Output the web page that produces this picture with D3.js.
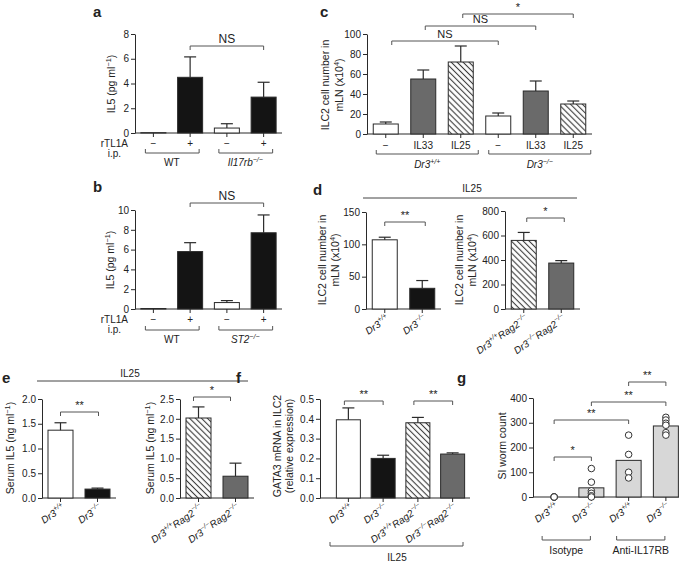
<!DOCTYPE html>
<html><head><meta charset="utf-8">
<script src="https://cdn.jsdelivr.net/npm/d3@7/dist/d3.min.js"></script>
<style>body{margin:0;background:#fff}svg{display:block}</style>
</head><body><svg id="fig" width="685" height="563"></svg>
<script>
// ---------------- DATA ----------------
const aCategories = ["−", "+", "−", "+"];
const aGroups = ["WT", "Il17rb^{−/−}"];
const aValues = [0.03, 4.5, 0.4, 2.9];
const aErrorTops = [0.03, 6.15, 0.75, 4.1];
const aYTicks = [0, 2, 4, 6, 8];
const aSig = [[1, 3, "NS"]];

const bCategories = ["−", "+", "−", "+"];
const bGroups = ["WT", "ST2^{−/−}"];
const bValues = [0.05, 5.8, 0.65, 7.7];
const bErrorTops = [0.05, 6.7, 0.85, 9.5];
const bYTicks = [0, 2, 4, 6, 8, 10];
const bSig = [[1, 3, "NS"]];

const cCategories = ["−", "IL33", "IL25", "−", "IL33", "IL25"];
const cGroups = ["Dr3^{+/+}", "Dr3^{−/−}"];
const cValues = [10, 55, 72, 18, 43, 30];
const cErrorTops = [12, 64, 88, 21, 53, 33];
const cYTicks = [0, 20, 40, 60, 80, 100];
const cSig = [[0, 3, "NS"], [1, 4, "NS"], [2, 5, "*"]];

const dHeader = "IL25";
const dLeftCategories = ["Dr3^{+/+}", "Dr3^{−/−}"];
const dLeftValues = [107, 32];
const dLeftErrorTops = [111, 44];
const dLeftYTicks = [0, 50, 100, 150];
const dLeftSig = [[0, 1, "**"]];
const dRightCategories = ["Dr3^{+/+}Rag2^{−/−}", "Dr3^{−/−}Rag2^{−/−}"];
const dRightValues = [560, 375];
const dRightErrorTops = [625, 395];
const dRightYTicks = [0, 200, 400, 600, 800];
const dRightSig = [[0, 1, "*"]];

const eHeader = "IL25";
const eLeftCategories = ["Dr3^{+/+}", "Dr3^{−/−}"];
const eLeftValues = [1.37, 0.18];
const eLeftErrorTops = [1.52, 0.2];
const eLeftYTicks = [0, 0.5, 1.0, 1.5, 2.0];
const eLeftSig = [[0, 1, "**"]];
const eRightCategories = ["Dr3^{+/+}Rag2^{−/−}", "Dr3^{−/−}Rag2^{−/−}"];
const eRightValues = [2.02, 0.55];
const eRightErrorTops = [2.3, 0.88];
const eRightYTicks = [0, 0.5, 1.0, 1.5, 2.0, 2.5];
const eRightSig = [[0, 1, "*"]];

const fCategories = ["Dr3^{+/+}", "Dr3^{−/−}", "Dr3^{+/+}Rag2^{−/−}", "Dr3^{−/−}Rag2^{−/−}"];
const fValues = [0.395, 0.2, 0.38, 0.222];
const fErrorTops = [0.455, 0.216, 0.407, 0.228];
const fYTicks = [0, 0.1, 0.2, 0.3, 0.4, 0.5];
const fSig = [[0, 1, "**"], [2, 3, "**"]];
const fFooter = "IL25";

const gCategories = ["Dr3^{+/+}", "Dr3^{−/−}", "Dr3^{+/+}", "Dr3^{−/−}"];
const gGroups = ["Isotype", "Anti-IL17RB"];
const gMeans = [0, 37, 148, 287];
const gPoints = [[0, 0, 0, 0], [115, 60, 25, 15, 5, 0], [250, 172, 100, 77], [322, 311, 298, 290, 260, 250]];
const gYTicks = [0, 100, 200, 300, 400];
const gSig = [[0, 1, "*"], [0, 2, "**"], [1, 3, "**"], [2, 3, "**"]];

// ---------------- STYLE ----------------
const FONT = "'Liberation Sans', Arial, Helvetica, sans-serif";
const INK = "#2a2a2a";
const TXT = "#222";
const BLACK = "#141414", DARK = "#6a6a6a", LIGHT = "#d7d7d7", WHITE = "#ffffff", HATCH = "url(#hatch)";

const svg = d3.select("#fig").attr("font-family", FONT);
const defs = svg.append("defs");
const pat = defs.append("pattern").attr("id", "hatch").attr("patternUnits", "userSpaceOnUse")
  .attr("width", 4.2).attr("height", 4.2).attr("patternTransform", "rotate(-45)");
pat.append("rect").attr("width", 4.2).attr("height", 4.2).attr("fill", "#fff");
pat.append("line").attr("x1", 2.1).attr("x2", 2.1).attr("y1", 0).attr("y2", 4.2).attr("stroke", "#3a3a3a").attr("stroke-width", 1.1);

function rich(t, str, size, italic) {
  const parts = str.split(/(\^\{[^}]*\})/).filter(s => s.length);
  let raised = false;
  parts.forEach(p => {
    const sup = p.startsWith("^{");
    const s = sup ? p.slice(2, -1) : p;
    const ts = t.append("tspan").text(s).attr("font-size", sup ? size * 0.7 : size);
    if (italic) ts.attr("font-style", "italic");
    if (sup && !raised) { ts.attr("dy", -size * 0.42); raised = true; }
    else if (!sup && raised) { ts.attr("dy", size * 0.42); raised = false; }
  });
  return t;
}
function label(x, y, str, size, opts = {}) {
  const t = svg.append("text").attr("x", x).attr("y", y).attr("fill", TXT)
    .attr("text-anchor", opts.anchor || "middle");
  if (opts.weight) t.attr("font-weight", opts.weight);
  if (opts.rotate != null) t.attr("transform", `rotate(${opts.rotate},${x},${y})`);
  return rich(t, str, size, !!opts.italic);
}
function hline(x1, x2, y) {
  svg.append("line").attr("x1", x1).attr("x2", x2).attr("y1", y).attr("y2", y)
    .attr("stroke", "#444").attr("stroke-width", 1);
}
function sigBracket(xa, xb, yl, text, size) {
  svg.append("path").attr("d", `M${xa},${yl + 4}V${yl}H${xb}V${yl + 4}`)
    .attr("fill", "none").attr("stroke", "#555").attr("stroke-width", 1);
  label((xa + xb) / 2, yl - 3, text, size);
}
function groupBracket(xa, xb, yl) {
  svg.append("path").attr("d", `M${xa},${yl - 4}V${yl}H${xb}V${yl - 4}`)
    .attr("fill", "none").attr("stroke", "#555").attr("stroke-width", 1);
}

function barPanel(o) {
  const n = o.values.length;
  const step = (o.x1 - o.x0) / n;
  const pad = 1 - o.barW / step;
  const x = d3.scaleBand().domain(d3.range(n)).range([o.x0, o.x1]).paddingInner(pad).paddingOuter(pad / 2);
  const y = d3.scaleLinear().domain([0, o.yMax]).range([o.yBase, o.yTop]);
  const axisX = o.axisX ?? o.x0;
  const axisEnd = o.axisEnd ?? o.x1;
  const g = svg.append("g");
  const ya = g.append("g").attr("transform", `translate(${axisX},0)`)
    .call(d3.axisLeft(y).tickValues(o.ticks).tickFormat(d3.format(o.fmt || "d")).tickSize(4).tickPadding(2).tickSizeOuter(0));
  const xa = g.append("g").attr("transform", `translate(0,${o.yBase})`)
    .call(d3.axisBottom(x).tickFormat("").tickSize(4).tickSizeOuter(0));
  xa.select(".domain").remove();
  g.append("line").attr("x1", axisX).attr("x2", axisEnd).attr("y1", o.yBase).attr("y2", o.yBase)
    .attr("stroke", INK).attr("stroke-width", 1);
  [ya, xa].forEach(a => {
    a.attr("font-family", FONT).attr("font-size", 10);
    a.selectAll("path,line").attr("stroke", INK);
    a.selectAll("text").attr("fill", TXT);
  });
  const cx = i => x(i) + x.bandwidth() / 2;
  g.selectAll("rect.bar").data(o.values).join("rect").attr("class", "bar")
    .attr("x", (d, i) => x(i)).attr("width", x.bandwidth())
    .attr("y", d => y(d)).attr("height", d => o.yBase - y(d))
    .attr("fill", (d, i) => o.fills[i]).attr("stroke", INK).attr("stroke-width", 1);
  if (o.errs) {
    const eg = g.append("g").attr("stroke", INK).attr("stroke-width", 1.2);
    o.errs.forEach((e, i) => {
      if (e <= o.values[i]) return;
      eg.append("line").attr("x1", cx(i)).attr("x2", cx(i)).attr("y1", y(o.values[i])).attr("y2", y(e));
      eg.append("line").attr("x1", cx(i) - 6).attr("x2", cx(i) + 6).attr("y1", y(e)).attr("y2", y(e));
    });
  }
  return { x, y, g, cx };
}
function yTitle(xs, yc, lines, size) {
  lines.forEach((l, k) => label(xs[k], yc, l, size, { rotate: -90 }));
}
function rotLabels(p, cats, yBase, size) {
  cats.forEach((c, i) => label(p.cx(i) + 5, yBase + 11, c, size, { anchor: "end", italic: true, rotate: -35 }));
}

// ---------------- PANEL a ----------------
label(93, 17, "a", 15, { anchor: "start", weight: "bold" });
{
  const p = barPanel({ x0: 135, x1: 282, barW: 25, yBase: 133, yTop: 34, yMax: 8, ticks: aYTicks,
    values: aValues, errs: aErrorTops, fills: [WHITE, BLACK, WHITE, BLACK] });
  aCategories.forEach((c, i) => label(p.cx(i), 147, c, 10));
  label(128, 147, "rTL1A", 10, { anchor: "end" });
  label(121, 157, "i.p.", 10, { anchor: "end" });
  [[0, 1], [2, 3]].forEach(([s, e], k) => {
    groupBracket(p.cx(s) - 8, p.cx(e) + 9, 153);
    label((p.cx(s) + p.cx(e)) / 2, 166, aGroups[k], 10, { italic: k === 1 });
  });
  aSig.forEach(([s, e, t]) => sigBracket(p.cx(s), p.cx(e), 46, t, 12));
  yTitle([115], 84, ["IL5 (pg ml^{−1})"], 10.5);
}

// ---------------- PANEL b ----------------
label(93, 192, "b", 15, { anchor: "start", weight: "bold" });
{
  const p = barPanel({ x0: 135, x1: 282, barW: 25, yBase: 309, yTop: 210, yMax: 10, ticks: bYTicks,
    values: bValues, errs: bErrorTops, fills: [WHITE, BLACK, WHITE, BLACK] });
  bCategories.forEach((c, i) => label(p.cx(i), 323, c, 10));
  label(128, 323, "rTL1A", 10, { anchor: "end" });
  label(121, 333, "i.p.", 10, { anchor: "end" });
  [[0, 1], [2, 3]].forEach(([s, e], k) => {
    groupBracket(p.cx(s) - 8, p.cx(e) + 9, 330);
    label((p.cx(s) + p.cx(e)) / 2, 343, bGroups[k], 10, { italic: k === 1 });
  });
  bSig.forEach(([s, e, t]) => sigBracket(p.cx(s), p.cx(e), 203, t, 12));
  yTitle([114], 260, ["IL5 (pg ml^{−1})"], 10.5);
}

// ---------------- PANEL c ----------------
label(320, 17, "c", 15, { anchor: "start", weight: "bold" });
{
  const p = barPanel({ x0: 367, x1: 592, barW: 25, yBase: 134, yTop: 34, yMax: 100, ticks: cYTicks,
    values: cValues, errs: cErrorTops, fills: [WHITE, DARK, HATCH, WHITE, DARK, HATCH] });
  cCategories.forEach((c, i) => label(p.cx(i), 149, c, 10));
  [[0, 2], [3, 5]].forEach(([s, e], k) => {
    const xa = p.x(s) + 3, xb = p.x(e) + p.x.bandwidth() + 5;
    groupBracket(xa, xb, 154);
    label((xa + xb) / 2, 168, cGroups[k], 10, { italic: true });
  });
  const levels = [41, 26, 14];
  cSig.forEach(([s, e, t], k) => sigBracket(p.cx(s) + (k === 0 ? 6 : 2), p.cx(e), levels[k], t, 11));
  yTitle([329, 343], 85, ["ILC2 cell number in", "mLN (x10^{4})"], 10.5);
}

// ---------------- PANEL d ----------------
label(313, 195, "d", 15, { anchor: "start", weight: "bold" });
label(472, 192, dHeader, 10);
hline(363, 577, 198);
{
  const p = barPanel({ x0: 366, x1: 441, barW: 25, yBase: 309, yTop: 212, yMax: 150, ticks: dLeftYTicks,
    values: dLeftValues, errs: dLeftErrorTops, fills: [WHITE, BLACK] });
  dLeftSig.forEach(([s, e, t]) => sigBracket(p.cx(s), p.cx(e) + 3, 222, t, 11));
  rotLabels(p, dLeftCategories, 309, 10);
  yTitle([326, 339], 260, ["ILC2 cell number in", "mLN (x10^{4})"], 10.5);
}
{
  const p = barPanel({ x0: 505, x1: 580, barW: 25, yBase: 309, yTop: 211, yMax: 800, ticks: dRightYTicks,
    values: dRightValues, errs: dRightErrorTops, fills: [HATCH, DARK] });
  dRightSig.forEach(([s, e, t]) => sigBracket(p.cx(s) + 3, p.cx(e) + 3, 218, t, 11));
  rotLabels(p, dRightCategories, 309, 10);
  yTitle([463, 476], 260, ["ILC2 cell number in", "mLN (x10^{4})"], 10.5);
}

// ---------------- PANEL e ----------------
label(2, 383, "e", 15, { anchor: "start", weight: "bold" });
label(130, 377, eHeader, 10);
hline(37, 248, 381);
{
  const p = barPanel({ x0: 42, x1: 116, barW: 25, yBase: 498, yTop: 399, yMax: 2, ticks: eLeftYTicks, fmt: ".1f",
    values: eLeftValues, errs: eLeftErrorTops, fills: [WHITE, BLACK] });
  eLeftSig.forEach(([s, e, t]) => sigBracket(p.cx(s), p.cx(e) + 1, 412, t, 11));
  rotLabels(p, eLeftCategories, 498, 10);
  yTitle([14], 448, ["Serum IL5 (ng ml^{−1})"], 10.5);
}
{
  const p = barPanel({ x0: 180, x1: 254, barW: 25, yBase: 498, yTop: 399, yMax: 2.5, ticks: eRightYTicks, fmt: ".1f",
    values: eRightValues, errs: eRightErrorTops, fills: [HATCH, DARK] });
  eRightSig.forEach(([s, e, t]) => sigBracket(p.cx(s) - 5, p.cx(e) - 5, 397, t, 11));
  rotLabels(p, eRightCategories, 498, 10);
  yTitle([154], 448, ["Serum IL5 (ng ml^{−1})"], 10.5);
}

// ---------------- PANEL f ----------------
label(236, 383, "f", 15, { anchor: "start", weight: "bold" });
{
  const p = barPanel({ axisX: 320, axisEnd: 470, x0: 331, x1: 470, barW: 24, yBase: 498, yTop: 399, yMax: 0.5,
    ticks: fYTicks, fmt: ".1f", values: fValues, errs: fErrorTops, fills: [WHITE, BLACK, HATCH, DARK] });
  fSig.forEach(([s, e, t]) => sigBracket(p.cx(s) - 4, p.cx(e), 401, t, 11));
  rotLabels(p, fCategories, 498, 10);
  groupBracket(330, 463, 546);
  label(397, 561, fFooter, 10);
  yTitle([281, 293], 446, ["GATA3 mRNA in ILC2", "(relative expression)"], 10.5);
}

// ---------------- PANEL g ----------------
label(457, 383, "g", 15, { anchor: "start", weight: "bold" });
{
  const p = barPanel({ axisX: 533, axisEnd: 679, x0: 535.5, x1: 684.5, barW: 25, yBase: 497, yTop: 398, yMax: 400,
    ticks: gYTicks, values: gMeans, fills: [LIGHT, LIGHT, LIGHT, LIGHT] });
  const pts = gPoints.flatMap((arr, i) => arr.map(v => ({ i, v })));
  p.g.selectAll("circle.pt").data(pts).join("circle").attr("class", "pt")
    .attr("cx", d => p.cx(d.i)).attr("cy", d => p.y(d.v)).attr("r", 3.3)
    .attr("fill", "#fff").attr("stroke", "#333").attr("stroke-width", 1);
  const levels = [457, 420, 402, 382];
  gSig.forEach(([s, e, t], k) => sigBracket(p.cx(s), p.cx(e), levels[k], t, 11));
  rotLabels(p, gCategories, 497, 10);
  [[0, 1], [2, 3]].forEach(([s, e], k) => {
    const xa = p.cx(s) - 12, xb = p.cx(e) - 1;
    groupBracket(xa, xb, 540);
    label((xa + xb) / 2, 554, gGroups[k], 10.5);
  });
  yTitle([506], 446, ["SI worm count"], 10.5);
}
</script></body></html>
